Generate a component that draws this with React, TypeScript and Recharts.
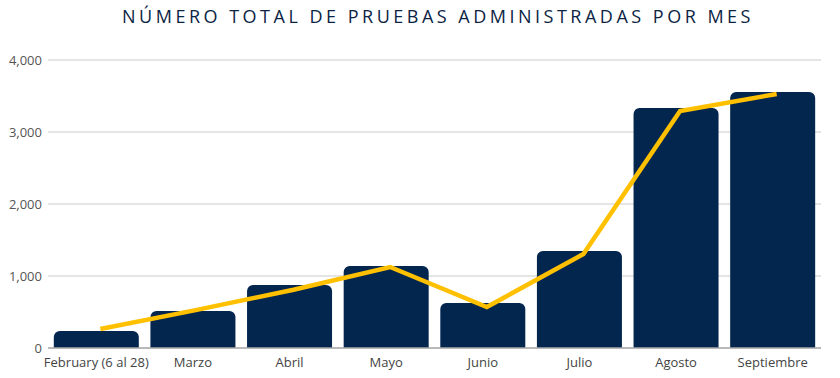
import { ComposedChart, Bar, Line, XAxis, YAxis, CartesianGrid } from 'recharts'

const months = ['February (6 al 28)', 'Marzo', 'Abril', 'Mayo', 'Junio', 'Julio', 'Agosto', 'Septiembre']
const testsTotal = [236, 514, 875, 1139, 625, 1347, 3333, 3556]
const trend = [264, 530, 810, 1125, 569, 1305, 3292, 3528]
const yTicks = [0, 1000, 2000, 3000, 4000]

const NAVY = '#03264f'
const GOLD = '#ffc000'

const data = months.map((m, i) => ({ month: m, total: testsTotal[i], trend: trend[i] }))

export default function App() {
  return (
    <div style={{ position: 'absolute', left: 0, top: 0, width: 840, height: 378, background: '#fff', fontFamily: '"Open Sans", sans-serif' }}>
      <div style={{
        position: 'absolute', top: 4, left: 0, width: 876, textAlign: 'center',
        fontSize: 18, letterSpacing: 3.5, color: '#0c2444', fontFamily: '"Open Sans", sans-serif',
      }}>
        NÚMERO TOTAL DE PRUEBAS ADMINISTRADAS POR MES
      </div>
      <ComposedChart width={840} height={378} data={data} margin={{ top: 60, right: 19, bottom: 6, left: 8 }} barCategoryGap="6%">
        <CartesianGrid vertical={false} stroke="#dcdcdc" strokeWidth={1.5} />
        <XAxis
          dataKey="month"
          height={24}
          tickLine={false}
          axisLine={{ stroke: '#aaaaaa', strokeWidth: 1.5 }}
          tick={{ fontSize: 13, fill: '#444', dy: 2 }}
          interval={0}
        />
        {/* trend line sits a few px right of the bar centres in the original */}
        <XAxis xAxisId="trend" dataKey="month" hide padding={{ left: 4, right: -4 }} />
        <YAxis
          width={40}
          domain={[0, 4000]}
          ticks={yTicks}
          tickLine={false}
          tickSize={4}
          axisLine={false}
          tick={{ fontSize: 13, fill: '#555' }}
          tickFormatter={(v: number) => v.toLocaleString('en-US')}
        />
        <Bar dataKey="total" fill={NAVY} radius={[6, 6, 0, 0]} isAnimationActive={false} />
        <Line xAxisId="trend" dataKey="trend" type="linear" stroke={GOLD} strokeWidth={4.5} dot={false} isAnimationActive={false} />
      </ComposedChart>
    </div>
  )
}
